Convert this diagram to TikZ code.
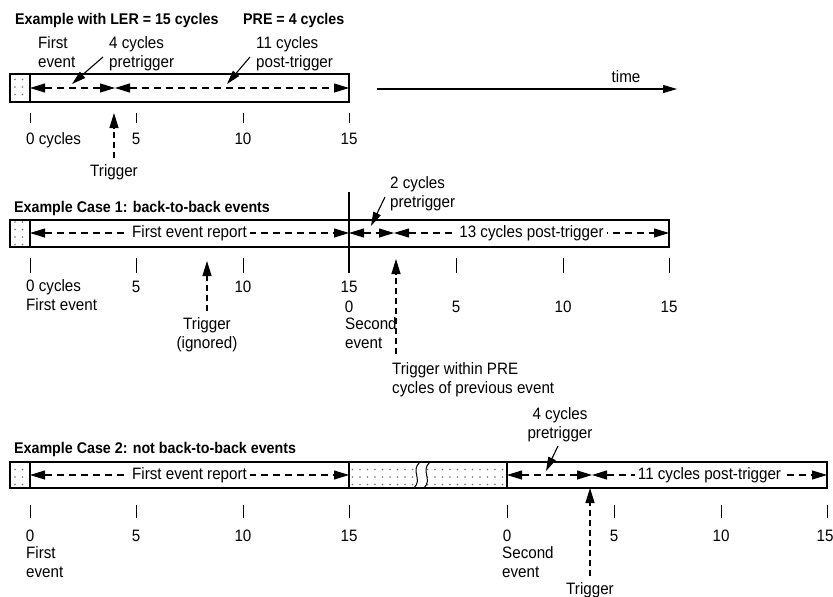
\documentclass[tikz,border=0pt]{standalone}
\usepackage{fontspec}
\setmainfont[FakeStretch=0.92]{Liberation Sans}
\usetikzlibrary{arrows.meta,patterns.meta}

\begin{document}
\begin{tikzpicture}[x=1pt, y=-1pt, font=\fontsize{16.5}{18.5}\selectfont,
lbl/.style={inner sep=0pt, anchor=base, align=center}, lbll/.style={inner sep=0pt, anchor=base west, align=left},
title/.style={inner sep=0pt, anchor=base west, font=\bfseries\fontsize{15.5}{18}\selectfont},
bar/.style={draw, line width=1.2pt}, dotfill/.style={bar, pattern={Dots[distance=7.5pt, radius=0.8pt]}, pattern color=black!55},
dimline/.style={line width=1.1pt, dash pattern=on 7pt off 5pt, {Triangle[length=15pt,width=9pt]}-{Triangle[length=15pt,width=9pt]}},
midlbl/.style={fill=white, inner xsep=3pt, inner ysep=1pt},
pointer/.style={line width=1.1pt, -{Triangle[length=14pt,width=8pt]}},
trig/.style={line width=1.2pt, dash pattern=on 6pt off 4pt, -{Triangle[length=15pt,width=9pt]}},
tickmark/.style={line width=1pt}]
\useasboundingbox (0,0) rectangle (833,597);
\node[title] (ttl1) at (15,24) {Example with LER = 15 cycles};
\node[title] (pre) at (243,24) {PRE = 4 cycles};
\draw[dotfill] (10,74) rectangle (30,102);
\draw[bar] (30,74) rectangle (349,102);
\coordinate (a0) at (30,88); \coordinate (a4) at (115,88); \coordinate (a15) at (349,88);
\draw[dimline] (a0) -- (a4); \draw[dimline] (a4) -- (a15);
\node[lbll] (first) at (38,67) {First\\event};
\node[lbll] (pre4) at (109,67) {4 cycles\\pretrigger};
\node[lbll] (post11) at (256,67) {11 cycles\\post-trigger};
\coordinate (p1) at (103,57); \coordinate (p1e) at (72,84); \draw[pointer] (p1) -- (p1e);
\coordinate (p2) at (250,57); \coordinate (p2e) at (227,84); \draw[pointer] (p2) -- (p2e);
\foreach \x in {30,136,243,349} \draw[tickmark] (\x,113) -- (\x,123);
\node[lbll] (c0) at (26,144) {0 cycles};
\node[lbl] (c5) at (136,144) {5}; \node[lbl] (c10) at (243,144) {10}; \node[lbl] (c15) at (349,144) {15};
\node[lbl] (trg1) at (114,176) {Trigger};
\coordinate (tr1) at (114,113); \draw[trig] ([yshift=6pt]trg1.north) -- (tr1);
\coordinate (tm0) at (377,89); \coordinate (tm1) at (677,89); \draw[pointer] (tm0) -- (tm1);
\node[lbl] (time) at (626,82) {time};

\node[title] (ttl2) at (14,212) {Example Case 1: back-to-back events};
\draw[dotfill] (10,220) rectangle (30,247);
\draw[bar] (30,220) rectangle (669,247);
\draw[bar] (349,192) -- (349,273);
\coordinate (b0) at (30,233); \coordinate (b15) at (349,233); \coordinate (b2) at (394,233); \coordinate (b30) at (669,233);
\draw[dimline] (b0) -- node[midlbl] (fer1) {First event report} (b15);
\draw[dimline] (b15) -- (b2);
\draw[dimline] (b2) -- node[midlbl] (post13) {13 cycles post-trigger} (b30);
\node[lbll] (pre2) at (390,207) {2 cycles\\pretrigger};
\coordinate (p3) at (385,197); \coordinate (p3e) at (371,226); \draw[pointer] (p3) -- (p3e);
\foreach \x in {30,136,243,456,563,669} \draw[tickmark] (\x,258) -- (\x,273);
\node[lbll] (d0) at (26,310) {0 cycles\\First event};
\node[lbl] (d5) at (136,292) {5}; \node[lbl] (d10) at (243,292) {10}; \node[lbl] (d15) at (349,292) {15};
\node[lbl] (e0) at (349,312) {0};
\node[lbll] (sec1) at (345,348) {Second\\event};
\node[lbl] (e5) at (456,312) {5}; \node[lbl] (e10) at (563,312) {10}; \node[lbl] (e15) at (669,312) {15};
\node[lbl] (trg2) at (207,348) {Trigger\\(ignored)};
\coordinate (tr2) at (207,261); \draw[trig] ([yshift=6pt]trg2.north) -- (tr2);
\node[lbll] (trg3) at (392,393) {Trigger within PRE\\cycles of previous event};
\coordinate (tr3) at (396,259); \coordinate (tr3s) at (396,354); \draw[trig] (tr3s) -- (tr3);

\node[title] (ttl3) at (14,453) {Example Case 2: not back-to-back events};
\draw[dotfill] (10,462) rectangle (30,488);
\draw[bar] (30,462) rectangle (349,488);
\draw[dotfill] (349,462) rectangle (507,488);
\fill[white] (420,462) .. controls (410,471) and (423,479) .. (414,488) -- (424,488) .. controls (433,479) and (420,471) .. (430,462) -- cycle;
\draw[line width=1pt] (420,462) .. controls (410,471) and (423,479) .. (414,488);
\draw[line width=1pt] (430,462) .. controls (420,471) and (433,479) .. (424,488);
\draw[bar] (349,462) -- (507,462) (349,488) -- (507,488);
\draw[bar] (507,462) rectangle (827,488);
\coordinate (f0) at (30,475); \coordinate (f15) at (349,475); \coordinate (g0) at (507,475); \coordinate (g4) at (592,475); \coordinate (g15) at (827,475);
\draw[dimline] (f0) -- node[midlbl] (fer2) {First event report} (f15);
\draw[dimline] (g0) -- (g4);
\draw[dimline] (g4) -- node[midlbl] (post11b) {11 cycles post-trigger} (g15);
\node[lbl] (pre4b) at (560,438) {4 cycles\\pretrigger};
\coordinate (p4) at (558,446); \coordinate (p4e) at (546,471); \draw[pointer] (p4) -- (p4e);
\foreach \x in {30,136,243,349,507,614,721,827} \draw[tickmark] (\x,505) -- (\x,518);
\node[lbl] (h0) at (30,541) {0}; \node[lbl] (h5) at (136,541) {5}; \node[lbl] (h10) at (243,541) {10}; \node[lbl] (h15) at (349,541) {15};
\node[lbll] (first2) at (26,577) {First\\event};
\node[lbl] (k0) at (507,541) {0}; \node[lbl] (k5) at (614,541) {5}; \node[lbl] (k10) at (721,541) {10}; \node[lbl] (k15) at (825,541) {15};
\node[lbll] (sec2) at (502,577) {Second\\event};
\node[lbl] (trg4) at (590,594) {Trigger};
\coordinate (tr4) at (590,488); \draw[trig] ([yshift=6pt]trg4.north) -- (tr4);
\end{tikzpicture}
\end{document}
